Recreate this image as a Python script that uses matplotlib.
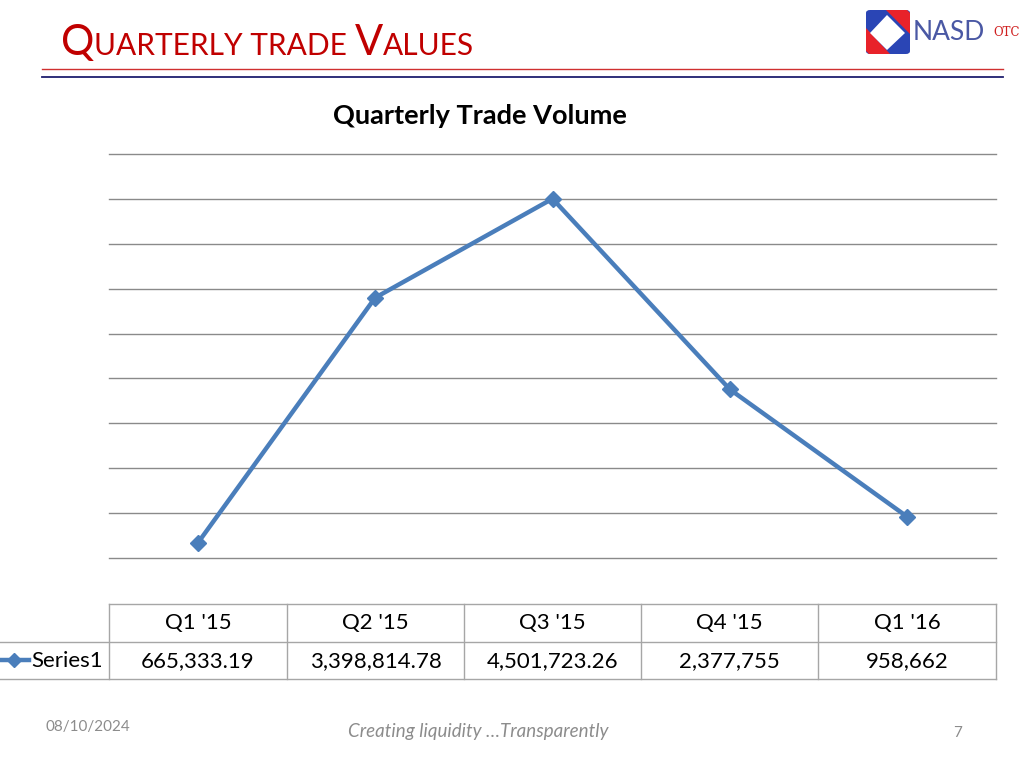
import matplotlib
matplotlib.use('Agg')
import matplotlib.pyplot as plt
from matplotlib.patches import Polygon, FancyBboxPatch
from matplotlib.lines import Line2D

# data
quarters = ["Q1 '15", "Q2 '15", "Q3 '15", "Q4 '15", "Q1 '16"]
values = [665333.19, 3398814.78, 4501723.26, 2377755, 958662]
value_labels = ['665,333.19', '3,398,814.78', '4,501,723.26', '2,377,755', '958,662']
series_name = 'Series1'

W, H = 1024, 768
plt.rcParams['font.family'] = ['Lato', 'DejaVu Sans']

fig = plt.figure(figsize=(W / 100, H / 100), dpi=100)

def fx(x):
    return x / W

def fy(y):
    return 1 - y / H

line_blue = '#4A7EBB'
red = '#C00000'
grey_txt = '#8C8C8C'

# header title in small caps style
r = fig.canvas.get_renderer()
pieces = [('Q', 30), ('UARTERLY TRADE ', 21.5), ('V', 30), ('ALUES', 21.5)]
x = 61
for s, size in pieces:
    t = fig.text(fx(x), fy(55), s, fontsize=size, color=red, ha='left', va='baseline')
    bb = t.get_window_extent(renderer=r)
    x += bb.width

# header lines
fig.add_artist(Line2D([fx(42), fx(1003)], [fy(69), fy(69)], color='#D03030', lw=1))
fig.add_artist(Line2D([fx(42), fx(1003)], [fy(77), fy(77)], color='#1F1F6E', lw=1.3))

# logo
fig.add_artist(FancyBboxPatch((fx(866), fy(54)), fx(44), 44 / H, boxstyle='round,pad=0,rounding_size=0.004',
                              fc='#2A45B5', ec='none'))
fig.add_artist(Polygon([(fx(886), fy(10)), (fx(907), fy(10)), (fx(910), fy(13)), (fx(910), fy(34))],
                       closed=True, fc='#E8222A', ec='none'))
fig.add_artist(Polygon([(fx(866), fy(28)), (fx(866), fy(51)), (fx(869), fy(54)), (fx(890), fy(54))],
                       closed=True, fc='#E8222A', ec='none'))
fig.add_artist(Polygon([(fx(887), fy(15)), (fx(905), fy(33)), (fx(887), fy(50)), (fx(870), fy(33))],
                       closed=True, fc='white', ec='none'))
fig.text(fx(913), fy(32), 'NASD', fontsize=19, color='#4A58A4', ha='left', va='center')
fig.text(fx(993), fy(33), 'OTC', fontsize=8.5, color='#D02020', ha='left', va='center', family='DejaVu Serif')

# chart title
fig.text(fx(480), fy(116), 'Quarterly Trade Volume', fontsize=19.5, fontweight='bold', color='black',
         ha='center', va='center')

# line chart
ax = fig.add_axes([fx(109), fy(558), (996 - 109) / W, (558 - 154) / H])
xs = list(range(len(quarters)))
ax.plot(xs, values, color=line_blue, lw=3.2, marker='D', markersize=8, markerfacecolor=line_blue,
        markeredgecolor=line_blue, zorder=3)
ax.set_xlim(-0.5, len(quarters) - 0.5)
ax.set_ylim(500000, 5000000)
ax.set_yticks([500000 * k for k in range(1, 11)])
ax.grid(axis='y', color='#8A8A8A', lw=1)
for gl in ax.get_ygridlines():
    gl.set_clip_on(False)
ax.tick_params(left=False, bottom=False, labelleft=False, labelbottom=False)
for sp in ax.spines.values():
    sp.set_visible(False)

# data table under the chart
col_edges = [109, 287, 464, 641, 818, 996]
tcol = '#A6A6A6'
fig.add_artist(Line2D([fx(109), fx(996)], [fy(604), fy(604)], color=tcol, lw=1))
fig.add_artist(Line2D([fx(0), fx(996)], [fy(642), fy(642)], color=tcol, lw=1))
fig.add_artist(Line2D([fx(0), fx(996)], [fy(679), fy(679)], color=tcol, lw=1))
for ce in col_edges:
    fig.add_artist(Line2D([fx(ce), fx(ce)], [fy(604), fy(679)], color=tcol, lw=1))
for i, (q, v) in enumerate(zip(quarters, value_labels)):
    cx = (col_edges[i] + col_edges[i + 1]) / 2
    fig.text(fx(cx), fy(623), q, fontsize=16, ha='center', va='center')
    fig.text(fx(cx), fy(661), v, fontsize=16, ha='center', va='center')
fig.add_artist(Line2D([fx(0), fx(29)], [fy(660), fy(660)], color=line_blue, lw=3.2))
fig.add_artist(Line2D([fx(14)], [fy(660)], color=line_blue, marker='D', markersize=7, lw=0))
fig.text(fx(31), fy(661), series_name, fontsize=16, ha='left', va='center')

# footer
fig.text(fx(45), fy(727), '08/10/2024', fontsize=11, color=grey_txt, ha='left', va='center')
fig.text(fx(478), fy(732), 'Creating liquidity \u2026Transparently', fontsize=13.5, color=grey_txt,
         style='italic', ha='center', va='center')
fig.text(fx(958), fy(733), '7', fontsize=11, color=grey_txt, ha='center', va='center')

fig.savefig('out.png', dpi=100)
